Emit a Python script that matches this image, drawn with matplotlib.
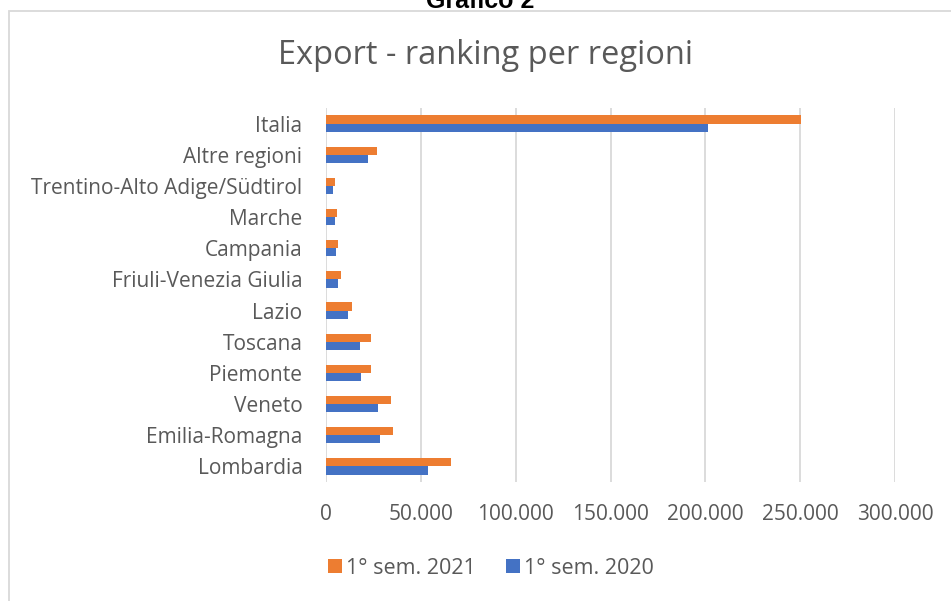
import matplotlib
matplotlib.use("Agg")
import matplotlib.pyplot as plt
import numpy as np

# Data, top to bottom
regions = ["Italia", "Altre regioni", "Trentino-Alto Adige/Südtirol", "Marche",
           "Campania", "Friuli-Venezia Giulia", "Lazio", "Toscana", "Piemonte",
           "Veneto", "Emilia-Romagna", "Lombardia"]
sem_2021 = [250300, 27000, 4700, 5800, 6300, 7900, 13900, 23500, 23900, 34100, 35300, 66000]
sem_2020 = [201500, 22300, 3700, 4700, 5300, 6100, 11800, 17700, 18400, 27400, 28300, 53800]
x_ticks = [0, 50000, 100000, 150000, 200000, 250000, 300000]
x_labels = ["0", "50.000", "100.000", "150.000", "200.000", "250.000", "300.000"]

plt.rcParams['font.family'] = ['Open Sans', 'DejaVu Sans']
text_col = "#595959"

fig = plt.figure(figsize=(9.51, 6.01), dpi=100)
ax = fig.add_axes([326 / 951, 1 - 482 / 601, (895 - 326) / 951, (482 - 108) / 601])

y = np.arange(len(regions))
bar_h = 0.26
ax.barh(y - bar_h / 2, sem_2021, height=bar_h, color="#ED7D31", label="1° sem. 2021", zorder=3)
ax.barh(y + bar_h / 2, sem_2020, height=bar_h, color="#4472C4", label="1° sem. 2020", zorder=3)

ax.set_ylim(len(regions) - 0.5, -0.5)
ax.set_xlim(0, 300000)
ax.set_yticks(y, regions)
ax.set_xticks(x_ticks, x_labels)
ax.tick_params(axis='y', length=0, pad=17, labelsize=15, labelcolor=text_col)
ax.tick_params(axis='x', length=0, pad=16, labelsize=15, labelcolor=text_col)
ax.grid(axis='x', color="#d9d9d9", linewidth=1.3, zorder=0)
for s in ax.spines.values():
    s.set_visible(False)

fig.text(0.511, 1 - 55 / 601, "Export - ranking per regioni", ha='center', va='center',
         fontsize=23.5, color=text_col)
fig.text(0.505, 1 - 8 / 601, "Grafico 2", ha='center', va='baseline', fontsize=18,
         weight='bold', family='Liberation Sans', color='black')

# chart frame
fig.add_artist(plt.Rectangle((8.5 / 951, -0.1), 1.2, 1 - 10.5 / 601 + 0.1,
                             transform=fig.transFigure, fill=False,
                             edgecolor="#d9d9d9", linewidth=1.3))

leg = fig.legend(loc='center', bbox_to_anchor=(0.516, 1 - 568 / 601), ncols=2, frameon=False,
                 fontsize=15.5, handlelength=0.65, handleheight=0.65, handletextpad=0.2,
                 columnspacing=1.4, labelcolor=text_col)

fig.savefig("out.png", dpi=100)
